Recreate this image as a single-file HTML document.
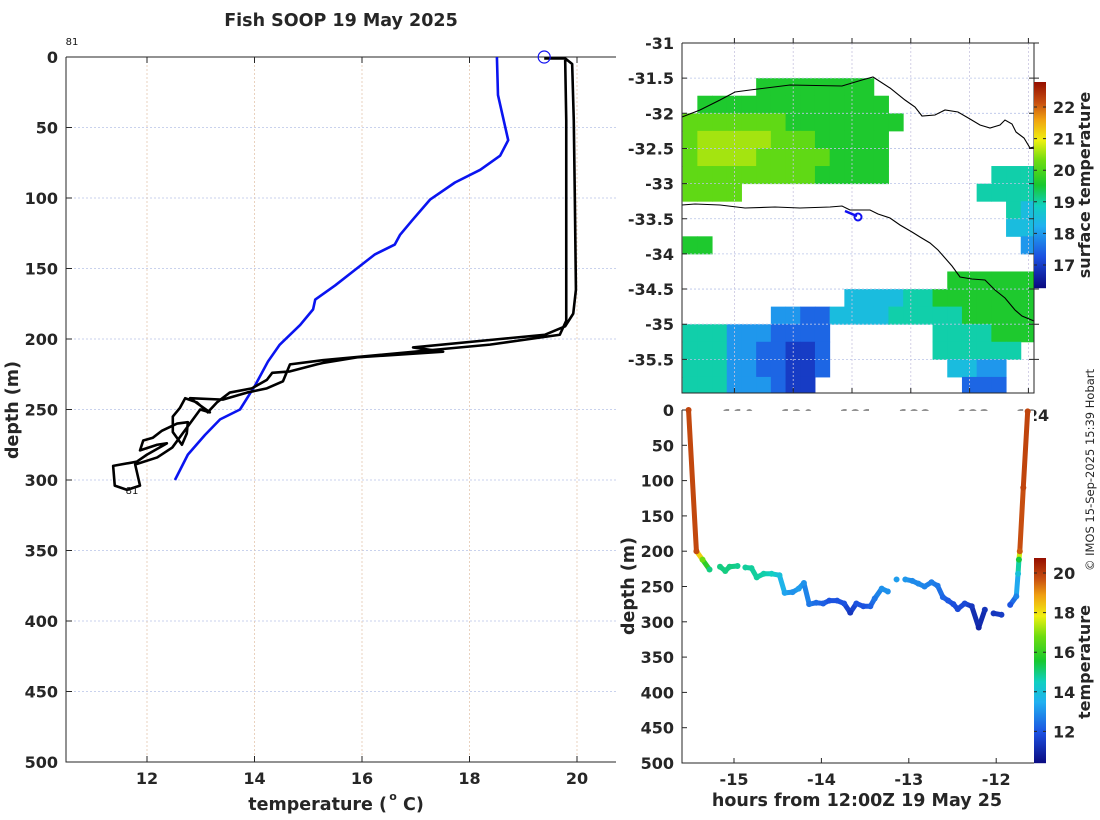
<!DOCTYPE html>
<html><head><meta charset="utf-8"><style>
html,body{margin:0;padding:0;background:#fff;}
svg{display:block;font-family:"DejaVu Sans","Liberation Sans",sans-serif;}
</style></head>
<body>
<svg id="fig" width="1100" height="820" viewBox="0 0 1100 820" xmlns="http://www.w3.org/2000/svg"></svg>
<script>
// ---------- data ----------
const xTicksMain=[12,14,16,18,20];
const yTicksDepth=[0,50,100,150,200,250,300,350,400,450,500];
const blueTemp=[18.51,18.53,18.72,18.57,18.20,17.73,17.27,16.93,16.71,16.61,16.24,15.87,15.50,15.13,15.09,14.85,14.66,14.47,14.25,14.01,13.73,13.36,13.08,12.76,12.52];
const blueDepth=[0,27,59,70,80,89,101,116,126,133,140,151,162,172,179,190,197,204,216,233,250,257,268,282,300];
const fishTemp=[19.39,19.78,19.91,19.94,19.96,19.98,19.93,19.78,19.40,18.57,16.95,17.51,15.91,15.27,15.16,14.66,14.33,14.23,13.95,13.54,13.30,13.13,12.93,12.71,12.61,12.48,12.48,12.65,12.74,12.76,12.56,12.28,12.11,11.93,11.87,12.19,12.37,12.00,11.81,11.37,11.40,11.63,11.87,11.78,12.19,12.47,12.99,13.17,12.80,13.41,13.86,14.23,14.53,14.66,15.27,18.38,19.68,19.80,19.80,19.78];
const fishDepth=[1,1,5,45,101,165,182,191,197,200,206,209,213,217,218,223,224,229,235,238,245,252,245,242,249,255,266,275,267,259,260,265,270,272,279,275,274,282,287,290,304,307,304,289,284,277,250,252,242,243,238,235,230,218,215,204,197,187,45,2];
const mapLatTicks=[-31,-31.5,-32,-32.5,-33,-33.5,-34,-34.5,-35,-35.5];
const mapLonTicks=[119,120,121,122,123,124];
const sstTicks=[17,18,19,20,21,22];
// SST grid rows (lat -31 downward, 0.25deg), cols from lon 118.12 (0.25deg); '.'=no data
const sstKey={a:17,b:17.5,c:18,d:18.5,e:19,f:19.6,g:20.2,h:20.6};
const sstRows=[
"........................",
"........................",
".....ffffffff...........",
".fffffffffffff..........",
"gggggggffffffff.........",
"ghhhhhgggfffff..........",
"ghhhhgggggffff..........",
"gggggggggfffff.......eee",
"gggg................eeee",
"......................ed",
"......................dd",
"ff.....................c",
"........................",
"..................ffffff",
"...........ddddeefffffff",
"......ccbbddddeeeeefffff",
"eeecccbbbb.......eeeefff",
"eeeccbbaab.......eeeeee.",
"eeeccbbaab........ddcc..",
"eeecccbaa..........bbb.."];
const hourTicks=[-15,-14,-13,-12];
const tempTicks=[12,14,16,18,20];
const trackHour=[-15.52,-15.43,-15.36,-15.28,-15.16,-15.10,-15.05,-14.96,-14.87,-14.80,-14.74,-14.66,-14.57,-14.48,-14.42,-14.33,-14.26,-14.20,-14.14,-14.06,-13.98,-13.91,-13.82,-13.74,-13.67,-13.60,-13.52,-13.44,-13.39,-13.31,-13.24,-13.14,-13.04,-12.96,-12.89,-12.82,-12.74,-12.67,-12.61,-12.55,-12.49,-12.44,-12.36,-12.28,-12.20,-12.13,-12.03,-11.94,-11.84,-11.77,-11.75,-11.74,-11.73,-11.69,-11.64];
const trackDepth=[0,200,212,226,222,228,222,221,223,224,237,232,232,234,259,258,253,245,275,273,274,270,270,274,287,274,278,278,267,253,257,240,240,242,246,250,244,249,265,270,275,282,274,278,308,283,288,290,276,264,232,212,200,110,2];
const trackTemp=[19.9,19.8,16.8,15.0,15.0,15.0,15.0,14.9,14.8,14.8,14.8,14.7,14.5,14.0,13.3,13.0,13.2,13.0,12.6,12.4,12.2,12.0,12.0,12.0,11.4,12.0,12.0,12.2,12.6,13.0,13.0,13.2,13.1,12.9,12.9,12.8,12.7,12.6,12.3,12.1,11.9,11.8,11.8,11.4,11.0,11.3,11.4,11.5,12.0,12.8,14.0,15.5,19.6,19.9,19.9];

// ---------- scales ----------
const xT=t=>147+(t-12)*53.75, yD=d=>57+d*1.41;
const lonX=l=>852+(l-121)*58.8, latY=a=>43+(-31-a)*70.3;
const hX=h=>734+(h+15)*87.4, bY=d=>410+d*0.706;
const cb1Y=v=>107+(22-v)*31.6, cb2Y=v=>573+(20-v)*19.8;
const stops=[[0,[10,10,128]],[0.15,[28,80,224]],[0.3,[32,176,240]],[0.4,[16,208,192]],[0.5,[24,200,48]],[0.62,[110,220,16]],[0.72,[240,240,16]],[0.82,[240,160,16]],[0.9,[200,80,16]],[1,[150,16,0]]];
function cmap(v,lo,hi){let t=Math.max(0,Math.min(1,(v-lo)/(hi-lo)));for(let i=1;i<stops.length;i++){if(t<=stops[i][0]){const a=stops[i-1],b=stops[i],f=(t-a[0])/(b[0]-a[0]);const c=a[1].map((x,k)=>Math.round(x+(b[1][k]-x)*f));return `rgb(${c})`;}}return 'rgb(150,16,0)';}

const svg=document.getElementById('fig');
const NS='http://www.w3.org/2000/svg';
function mk(tag,at,parent){const e=document.createElementNS(NS,tag);for(const k in at)e.setAttribute(k,at[k]);(parent||svg).appendChild(e);return e;}
function txt(s,x,y,anchor,size,bold,extra){const e=mk('text',Object.assign({x:x,y:y,'text-anchor':anchor||'middle','font-size':size||16,'font-weight':bold===false?'normal':'bold',fill:'#262626'},extra||{}));e.textContent=s;return e;}
let el;

// ---------- title ----------
el=txt('Fish SOOP 19 May 2025',341,26,'middle',17.5);



// ---------- main profile chart ----------
for(const v of yTicksDepth){
 el=mk('line',{x1:66,x2:616,y1:yD(v),y2:yD(v),stroke:'#b8c4e8','stroke-width':0.8,'stroke-dasharray':'2,2'});
 
 
 el=mk('line',{x1:66,x2:72,y1:yD(v),y2:yD(v),stroke:'#262626'});
 
 
 el=txt(String(v),58,yD(v)+6,'end');
 
 
}
for(const v of xTicksMain){
 el=mk('line',{x1:xT(v),x2:xT(v),y1:57,y2:762,stroke:'#e4c8b0','stroke-width':0.8,'stroke-dasharray':'2,2'});
 
 
 el=mk('line',{x1:xT(v),x2:xT(v),y1:762,y2:756,stroke:'#262626'});
 
 
 el=mk('line',{x1:xT(v),x2:xT(v),y1:57,y2:63,stroke:'#262626'});
 
 
 el=txt(String(v),xT(v),784);
 
 
}
el=mk('path',{d:'M66,57 V762 H616 M66,57 H616',stroke:'#262626',fill:'none','stroke-width':1});


el=mk('path',{d:blueTemp.map((t,i)=>(i?'L':'M')+xT(t)+','+yD(blueDepth[i])).join(''),stroke:'#0a14f0',fill:'none','stroke-width':2.6,'stroke-linejoin':'round'});


el=mk('path',{d:fishTemp.map((t,i)=>(i?'L':'M')+xT(t)+','+yD(fishDepth[i])).join(''),stroke:'#000',fill:'none','stroke-width':2.6,'stroke-linejoin':'round'});


el=mk('circle',{cx:xT(fishTemp[0]),cy:yD(0),r:6,stroke:'#1010f0',fill:'none','stroke-width':1.2});


el=txt('81',72,45,'middle',10,false,{fill:'#111'});


el=txt('81',132,494,'middle',10,false,{fill:'#111'});


el=txt('temperature (',387,810,'end',17.5);


el=txt('o',393,800,'middle',11);


el=txt('C)',403,810,'start',17.5);


el=txt('depth (m)',18,410,'middle',17.5,true,{transform:'rotate(-90 18 410)'});



// ---------- map ----------
const cw=0.25*58.8, ch=0.25*70.3;
sstRows.forEach((row,j)=>{for(let i=0;i<row.length;i++){const c=row[i];if(c==='.')continue;
 const x=lonX(118.12+0.25*i), y=latY(-31-0.25*j);
 el=mk('rect',{x:x,y:y,width:Math.min(cw+0.5,1034-x),height:Math.min(ch+0.5,393-y),fill:cmap(sstKey[c],16.3,22.8)});
 
 
}});
for(const v of mapLatTicks){
 el=mk('line',{x1:682,x2:1034,y1:latY(v),y2:latY(v),stroke:'#b8c4e8','stroke-width':0.8,'stroke-dasharray':'2,2'});
 
 
 el=mk('path',{d:`M682,${latY(v)}h5M1034,${latY(v)}h-5M1034,${latY(v)}h5`,stroke:'#262626'});
 
 
 el=txt(String(v),674,latY(v)+6,'end');
 
 
}
for(const v of mapLonTicks){
 el=mk('line',{x1:lonX(v),x2:lonX(v),y1:43,y2:393,stroke:'#c8c4e0','stroke-width':0.8,'stroke-dasharray':'2,2'});
 
 
 el=mk('path',{d:`M${lonX(v)},43v-5M${lonX(v)},393v-5`,stroke:'#262626'});
 
 
 el=txt(String(v),lonX(v)+4,421);
 
 
}
el=mk('path',{d:'M682,117 L700,110 L720,100 L735,92 L750,90 L790,85 L842,86 L862,80 L873,77 L890,88 L905,100 L915,107 L922,116 L935,115 L945,110 L958,112 L970,119 L980,125 L990,128 L1000,125 L1005,120 L1012,124 L1016,132 L1024,138 L1030,148 L1034,147',stroke:'#000',fill:'none','stroke-width':1.1});


el=mk('path',{d:'M682,205 L695,204 L720,205 L745,208 L775,207 L800,208 L830,207 L842,206 L850,210 L870,210 L878,214 L890,218 L900,225 L912,232 L920,237 L930,243 L938,250 L945,258 L952,266 L960,277 L972,279 L985,280 L995,290 L1005,298 L1015,310 L1022,316 L1034,321',stroke:'#000',fill:'none','stroke-width':1.1});


el=mk('path',{d:'M845,211 L852,214 L857,216',stroke:'#1010f0',fill:'none','stroke-width':2.5});


el=mk('circle',{cx:858,cy:217,r:3.5,stroke:'#1010f0',fill:'none','stroke-width':2});


el=mk('path',{d:'M682,43 V393 H1034 V43 H682',stroke:'#262626',fill:'none'});


// colorbar 1
for(let y=82;y<288;y++){const v=22.8-(y-82)/31.6;
 el=mk('rect',{x:1034,y:y,width:12,height:1.2,fill:cmap(v,16.3,22.8)});
 
 }
for(const v of sstTicks){
 el=mk('path',{d:`M1034,${cb1Y(v)}h3M1046,${cb1Y(v)}h-3`,stroke:'#262626'});
 
 
 el=txt(String(v),1053,cb1Y(v)+6,'start');
 
 
}
el=txt('surface temperature',1090,185,'middle',16,true,{transform:'rotate(-90 1090 185)'});



// ---------- depth-time chart ----------
el=mk('rect',{x:682,y:410.5,width:352,height:353,fill:'#fff'});


for(const v of yTicksDepth){
 el=mk('line',{x1:682,x2:687,y1:bY(v),y2:bY(v),stroke:'#262626'});
 
 
 el=txt(String(v),674,bY(v)+6,'end');
 
 
}
for(const v of hourTicks){
 el=mk('line',{x1:hX(v),x2:hX(v),y1:763,y2:758,stroke:'#262626'});
 
 
 el=txt(String(v),hX(v),785);
 
 
}
el=mk('path',{d:'M682,410 V763 H1034',stroke:'#262626',fill:'none'});


for(let i=1;i<trackHour.length;i++){
 const gap=Math.abs(trackHour[i]-trackHour[i-1])>0.09;
 el=mk('line',{x1:hX(trackHour[i-1]),y1:bY(trackDepth[i-1]),x2:hX(trackHour[i]),y2:bY(trackDepth[i]),stroke:cmap((trackTemp[i]+trackTemp[i-1])/2,10.4,20.76),'stroke-width':gap?0:5,'stroke-linecap':'round'});
 
 
}
for(let i=0;i<trackHour.length;i++){
 el=mk('circle',{cx:hX(trackHour[i]),cy:bY(trackDepth[i]),r:3,fill:cmap(trackTemp[i],10.4,20.76)});
 
 
}
for(let y=558;y<763;y++){const v=20.76-(y-558)/19.8;
 el=mk('rect',{x:1034,y:y,width:12,height:1.2,fill:cmap(v,10.4,20.76)});
 
 }
for(const v of tempTicks){
 el=mk('path',{d:`M1034,${cb2Y(v)}h3M1046,${cb2Y(v)}h-3`,stroke:'#262626'});
 
 
 el=txt(String(v),1053,cb2Y(v)+6,'start');
 
 
}
el=txt('temperature',1090,662,'middle',16,true,{transform:'rotate(-90 1090 662)'});


el=txt('depth (m)',634,586,'middle',17.5,true,{transform:'rotate(-90 634 586)'});


el=txt('hours from 12:00Z 19 May 25',857,806,'middle',17.5);


el=txt('© IMOS 15-Sep-2025 15:39 Hobart',1094,470,'middle',11.5,false,{transform:'rotate(-90 1094 470)'});


</script>
</body></html>
